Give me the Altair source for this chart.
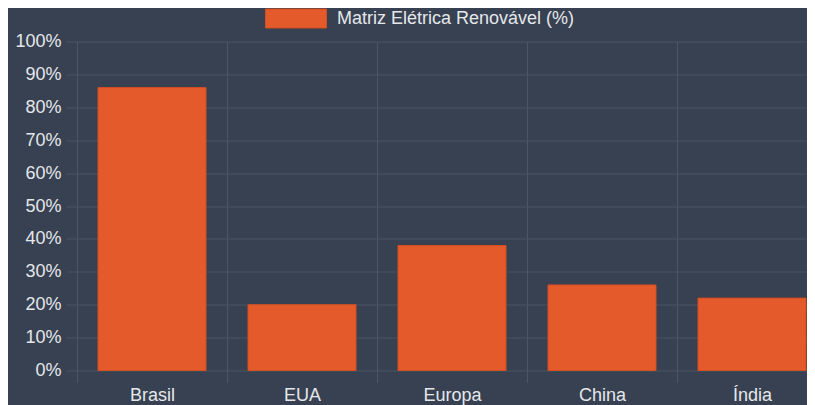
import altair as alt
import pandas as pd

categories = ["Brasil", "EUA", "Europa", "China", "Índia"]
values = [86, 20, 38, 26, 22]
series_name = "Matriz Elétrica Renovável (%)"
y_ticks = [0, 10, 20, 30, 40, 50, 60, 70, 80, 90, 100]

df = pd.DataFrame({"regiao": categories, "valor": values, "serie": [series_name] * len(categories)})

BG = "#374151"
GRID = "#4B5563"
TEXT = "#E5E7EB"
BAR = "#E55A2B"
BAR_STROKE = "#D14F22"
FONT = "Liberation Sans"

chart = alt.Chart(df).mark_bar(
    width=alt.RelativeBandSize(0.72), stroke=BAR_STROKE, strokeWidth=1
).encode(
    x=alt.X(
        "regiao:N", sort=categories,
        scale=alt.Scale(paddingInner=0, paddingOuter=0),
        axis=alt.Axis(
            title=None, labelAngle=0, tickBand="extent", grid=True,
            gridColor=GRID, tickColor=GRID, tickSize=12, domain=False,
            labelFontSize=18, labelColor=TEXT, labelPadding=4, labelFont=FONT,
        ),
    ),
    y=alt.Y(
        "valor:Q",
        scale=alt.Scale(domain=[0, 100], nice=False),
        axis=alt.Axis(
            title=None, values=y_ticks, labelExpr="datum.value + '%'",
            gridColor=GRID, tickColor=GRID, tickSize=11, domain=False,
            labelFontSize=18, labelColor=TEXT, labelPadding=5, labelFont=FONT,
        ),
    ),
    color=alt.Color(
        "serie:N",
        scale=alt.Scale(range=[BAR]),
        legend=alt.Legend(
            title=None, orient="none", legendX=188, legendY=-54, padding=0,
            symbolType="M-1,-0.311H1V0.311H-1Z", symbolSize=3721,
            symbolStrokeColor=BAR_STROKE, symbolStrokeWidth=1, symbolOpacity=1,
            labelFontSize=18, labelColor=TEXT, labelOffset=10, labelFont=FONT,
            labelLimit=0,
        ),
    ),
).properties(
    width=750, height=329,
    autosize=alt.AutoSizeParams(type="none"),
    padding={"left": 69, "top": 33.5, "right": -20, "bottom": 34.5},
    background=BG,
).configure_view(stroke=None)

chart.save("out.html", embed_options={"renderer": "svg", "actions": False})
